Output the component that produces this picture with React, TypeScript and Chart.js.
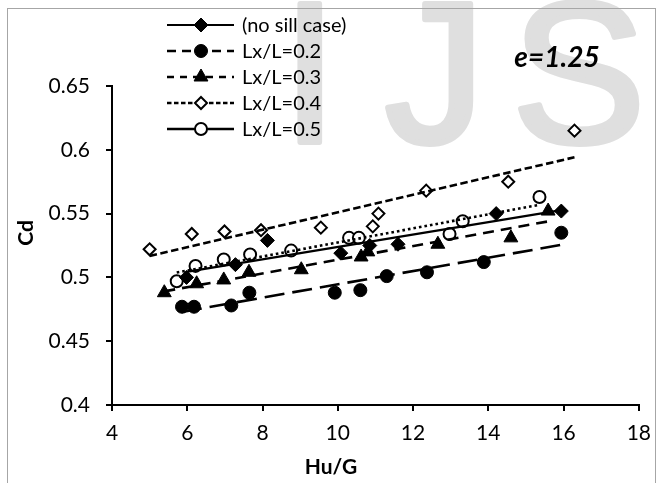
import React, { useEffect, useRef } from "react";
import { Chart, registerables } from "chart.js";

Chart.register(...registerables);

const xMin = 4;
const xMax = 18;
const xStep = 2;
const yMin = 0.4;
const yMax = 0.65;
const yStep = 0.05;

const seriesNames = ["(no sill case)", "Lx/L=0.2", "Lx/L=0.3", "Lx/L=0.4", "Lx/L=0.5"];

const noSillX = [5.98, 7.28, 8.13, 10.08, 10.85, 11.6, 14.21, 15.94];
const noSillY = [0.5, 0.51, 0.529, 0.519, 0.525, 0.526, 0.55, 0.552];
const lx02X = [5.86, 6.18, 7.17, 7.65, 9.92, 10.6, 11.3, 12.37, 13.88, 15.94];
const lx02Y = [0.477, 0.477, 0.478, 0.488, 0.488, 0.49, 0.501, 0.504, 0.512, 0.535];
const lx03X = [5.39, 6.25, 6.97, 7.64, 9.03, 10.62, 10.8, 12.66, 14.6, 15.59];
const lx03Y = [0.488, 0.495, 0.498, 0.504, 0.506, 0.516, 0.52, 0.526, 0.531, 0.552];
const lx04X = [5.0, 6.12, 6.99, 7.96, 9.55, 10.93, 11.08, 12.35, 14.53, 16.29];
const lx04Y = [0.522, 0.534, 0.536, 0.537, 0.539, 0.54, 0.55, 0.568, 0.575, 0.615];
const lx05X = [5.72, 6.22, 6.97, 7.67, 8.76, 10.3, 10.56, 12.97, 13.32, 15.36];
const lx05Y = [0.497, 0.509, 0.514, 0.518, 0.521, 0.531, 0.531, 0.534, 0.544, 0.563];

const annotationText = "e=1.25";
const xTitle = "Hu/G";
const yTitle = "Cd";
const watermark = ["I", "J", "S"];

const FONT = "Lato, 'Open Sans', sans-serif";

type Style = {
  pointStyle: string;
  radius: number;
  fill: string;
  dash: number[];
  legendDash: number[];
  lineWidth: number;
};

const styles: Style[] = [
  { pointStyle: "rectRot", radius: 7, fill: "#000", dash: [], legendDash: [], lineWidth: 2.2 },
  { pointStyle: "circle", radius: 6.5, fill: "#000", dash: [20, 8], legendDash: [9, 6], lineWidth: 2.6 },
  { pointStyle: "triangle", radius: 8, fill: "#000", dash: [11, 7], legendDash: [7, 6], lineWidth: 2.6 },
  { pointStyle: "rectRot", radius: 6, fill: "#fff", dash: [7.5, 3.5], legendDash: [4.5, 2.5], lineWidth: 2.6 },
  { pointStyle: "circle", radius: 6, fill: "#fff", dash: [2.6, 3], legendDash: [], lineWidth: 2.6 },
];

const seriesX = [noSillX, lx02X, lx03X, lx04X, lx05X];
const seriesY = [noSillY, lx02Y, lx03Y, lx04Y, lx05Y];

function toPoints(xs: number[], ys: number[]) {
  return xs.map((x, i) => ({ x, y: ys[i] }));
}

function trend(xs: number[], ys: number[]) {
  const n = xs.length;
  const mx = xs.reduce((a, b) => a + b, 0) / n;
  const my = ys.reduce((a, b) => a + b, 0) / n;
  let sxy = 0;
  let sxx = 0;
  for (let i = 0; i < n; i++) {
    sxy += (xs[i] - mx) * (ys[i] - my);
    sxx += (xs[i] - mx) * (xs[i] - mx);
  }
  const b = sxy / sxx;
  const a = my - b * mx;
  const x0 = Math.min(...xs);
  const x1 = Math.max(...xs);
  return [
    { x: x0, y: a + b * x0 },
    { x: x1, y: a + b * x1 },
  ];
}

function drawMarker(ctx: CanvasRenderingContext2D, style: string, r: number, fill: string, x: number, y: number) {
  ctx.beginPath();
  if (style === "circle") {
    ctx.arc(x, y, r, 0, Math.PI * 2);
  } else if (style === "rectRot") {
    ctx.moveTo(x, y - r);
    ctx.lineTo(x + r, y);
    ctx.lineTo(x, y + r);
    ctx.lineTo(x - r, y);
  } else {
    ctx.moveTo(x, y - r);
    ctx.lineTo(x + r * 0.866, y + r * 0.5);
    ctx.lineTo(x - r * 0.866, y + r * 0.5);
  }
  ctx.closePath();
  ctx.fillStyle = fill;
  ctx.fill();
  ctx.lineWidth = fill === "#fff" ? 2 : 1;
  ctx.strokeStyle = "#000";
  ctx.setLineDash([]);
  ctx.stroke();
}

const L = { left: 112, top: 86, right: 645, bottom: 405 };

const overlayPlugin = {
  id: "overlay",
  beforeDraw(chart: any) {
    const ctx = chart.ctx;
    ctx.save();
    ctx.fillStyle = "#fff";
    ctx.fillRect(0, 0, 661, 483);
    ctx.fillStyle = "#dfdfdf";
    ctx.strokeStyle = "#dfdfdf";
    ctx.lineWidth = 6;
    ctx.lineJoin = "round";
    ctx.font = "200px 'Liberation Sans', sans-serif";
    ctx.textBaseline = "alphabetic";
    ctx.textAlign = "left";
    const xs = [282, 385, 512];
    for (let i = 0; i < watermark.length; i++) {
      ctx.fillText(watermark[i], xs[i], 142);
      ctx.strokeText(watermark[i], xs[i], 142);
    }
    ctx.restore();
  },
  afterDraw(chart: any) {
    const ctx = chart.ctx;
    ctx.save();
    // chart frame
    ctx.strokeStyle = "#a6a6a6";
    ctx.lineWidth = 1;
    ctx.strokeRect(7.5, 8.5, 648, 520);

    // annotation
    ctx.fillStyle = "#000";
    ctx.font = `italic bold 28px ${FONT}`;
    ctx.textAlign = "center";
    ctx.textBaseline = "middle";
    ctx.fillText(annotationText, 557, 58);

    // axis titles
    ctx.font = `bold 21px ${FONT}`;
    ctx.fillText(xTitle, 331, 467);
    ctx.save();
    ctx.translate(26, 233);
    ctx.rotate(-Math.PI / 2);
    ctx.fillText(yTitle, 0, 0);
    ctx.restore();

    // legend
    const rowY = [25, 51, 77, 103, 129];
    ctx.font = `20px ${FONT}`;
    ctx.textAlign = "left";
    for (let i = 0; i < seriesNames.length; i++) {
      const s = styles[i];
      const y = rowY[i];
      ctx.strokeStyle = "#000";
      ctx.lineWidth = s.lineWidth;
      ctx.setLineDash(s.legendDash);
      ctx.beginPath();
      ctx.moveTo(167, y);
      ctx.lineTo(234, y);
      ctx.stroke();
      ctx.setLineDash([]);
      drawMarker(ctx, s.pointStyle, s.radius, s.fill, 201, y);
      ctx.fillStyle = "#000";
      ctx.fillText(seriesNames[i], 242, y + 1);
    }
    ctx.restore();
  },
};

export default function App() {
  const ref = useRef<HTMLCanvasElement | null>(null);

  useEffect(() => {
    document.body.style.margin = "0";
    const canvas = ref.current!;
    const datasets: any[] = [];
    for (let i = 0; i < seriesNames.length; i++) {
      const s = styles[i];
      datasets.push({
        type: "line",
        label: seriesNames[i] + " trend",
        data: trend(seriesX[i], seriesY[i]),
        showLine: true,
        borderColor: "#000",
        borderWidth: s.lineWidth,
        borderDash: s.dash,
        borderCapStyle: "butt",
        pointRadius: 0,
        fill: false,
        order: 1,
      });
    }
    for (let i = 0; i < seriesNames.length; i++) {
      const s = styles[i];
      datasets.push({
        type: "scatter",
        label: seriesNames[i],
        data: toPoints(seriesX[i], seriesY[i]),
        pointStyle: s.pointStyle,
        pointRadius: s.radius,
        pointBackgroundColor: s.fill,
        pointBorderColor: "#000",
        pointBorderWidth: s.fill === "#fff" ? 2 : 1,
        showLine: false,
        order: 2,
      });
    }

    const chart = new Chart(canvas, {
      type: "scatter",
      data: { datasets },
      plugins: [overlayPlugin],
      options: {
        responsive: false,
        animation: false,
        devicePixelRatio: 1,
        layout: { padding: { left: 0, top: L.top, right: 661 - L.right, bottom: 0 } },
        plugins: { legend: { display: false }, tooltip: { enabled: false } },
        scales: {
          x: {
            type: "linear",
            min: xMin,
            max: xMax,
            afterFit: (s: any) => {
              s.height = 483 - L.bottom;
            },
            ticks: {
              stepSize: xStep,
              color: "#000",
              font: { family: FONT, size: 21 },
              padding: 10,
              maxRotation: 0,
            },
            grid: { drawOnChartArea: false, drawTicks: true, tickLength: 6, color: "#000", lineWidth: 2 },
            border: { display: true, color: "#000", width: 2 },
          },
          y: {
            type: "linear",
            min: yMin,
            max: yMax,
            afterFit: (s: any) => {
              s.width = L.left;
            },
            ticks: {
              stepSize: yStep,
              color: "#000",
              font: { family: FONT, size: 21 },
              padding: 16,
              callback: (v: any) => String(Math.round(Number(v) * 100) / 100),
            },
            grid: { drawOnChartArea: false, drawTicks: true, tickLength: 6, color: "#000", lineWidth: 2 },
            border: { display: true, color: "#000", width: 2 },
          },
        },
      } as any,
    });
    return () => chart.destroy();
  }, []);

  return (
    <div style={{ position: "absolute", left: 0, top: 0, width: 661, height: 483, background: "#fff" }}>
      <canvas ref={ref} width={661} height={483} style={{ display: "block", width: 661, height: 483 }} />
    </div>
  );
}
